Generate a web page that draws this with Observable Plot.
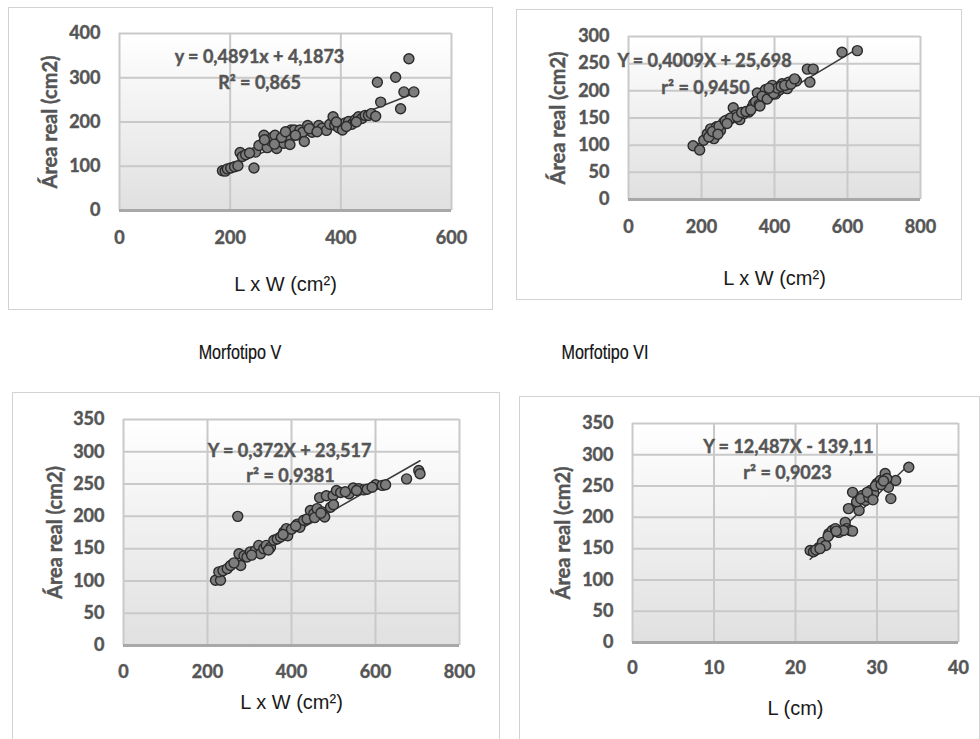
<!DOCTYPE html>
<html>
<head>
<meta charset="utf-8">
<script src="https://cdn.jsdelivr.net/npm/d3@7"></script>
<script src="https://cdn.jsdelivr.net/npm/@observablehq/plot@0.6"></script>
<style>
  html, body { margin: 0; padding: 0; background: #fff; }
  #root { position: relative; width: 980px; height: 739px; overflow: hidden; background: #fff; }
  .box { position: absolute; border: 1.5px solid #d2d2d2; box-sizing: border-box; }
  .panel { position: absolute; }
  .panel svg { overflow: visible; }
  .title { position: absolute; font-family: "Liberation Sans", Arial, sans-serif; font-size: 21px; color: #111;
           transform: translate(-50%, -50%) scaleX(0.77); white-space: nowrap; -webkit-text-stroke: 0.2px #111; }
</style>
</head>
<body>
<div id="root">
  <svg width="0" height="0" style="position:absolute">
    <defs>
      <linearGradient id="plotbg" x1="0" y1="0" x2="0" y2="1">
        <stop offset="0" stop-color="#ffffff"/>
        <stop offset="1" stop-color="#e0e0e0"/>
      </linearGradient>
    </defs>
  </svg>
</div>
<script>
// ---------- DATA ----------
// Panel 1 (top-left)
const p1X = [186,191,195,201,208,214,218,222,228,243,246,252,261,267,272,276,281,284,290,297,302,308,310,316,322,326,331,334,340,348,354,360,366,374,380,386,389,396,403,408,414,420,426,432,438,444,450,455,463,466,472,499,508,514,523,532,280,293,318,343,357,392,410,428,262,235,300];
const p1Y = [90,89,94,96,99,101,131,122,126,96,132,147,170,142,158,165,170,140,156,152,167,149,182,182,171,182,177,156,192,177,182,192,186,181,195,212,193,187,182,198,201,195,205,212,208,215,215,219,213,290,245,301,230,268,343,268,150,165,170,185,178,200,190,200,160,130,178];
// Panel 2 (top-right)
const p2X = [177,195,206,216,225,234,241,252,261,275,287,293,305,316,330,339,343,353,362,371,375,384,394,403,412,421,435,439,453,460,490,497,506,585,627,220,230,248,265,280,298,310,322,335,348,358,366,380,390,398,408,418,428,445,455,245,270,360,385];
const p2Y = [99,91,109,121,130,112,134,127,142,148,169,155,147,158,161,170,176,196,182,188,202,191,210,194,201,213,204,216,219,218,240,216,240,271,274,115,125,135,145,150,152,160,162,165,180,175,190,185,200,195,205,208,210,212,222,120,140,172,205];
// Panel 3 (Morfotipo V)
const p3X = [219,231,227,237,247,255,272,275,279,287,294,302,314,322,326,334,340,350,358,366,374,382,388,391,414,420,429,437,445,453,461,467,473,479,483,493,499,507,517,537,547,560,572,580,600,616,624,674,703,706,263,305,345,380,400,410,455,470,500,528,555,592];
const p3Y = [101,101,114,116,119,124,200,142,124,139,137,145,147,155,142,150,155,152,163,165,168,176,181,170,188,183,194,196,209,204,212,229,207,199,232,214,232,240,237,235,244,243,241,242,249,248,249,258,271,266,128,140,148,172,180,185,198,205,218,238,240,245];
// Panel 4 (Morfotipo VI)
const p4X = [21.8,22.2,22.9,23.3,23.7,24.1,24.5,24.9,25.3,26.1,26.3,26.7,27.0,27.4,27.8,28.2,28.6,29.2,29.6,30.0,30.4,31.0,31.4,31.7,32.3,33.9,26.5,27.0,25.9,22.5,23.0,24.0,25.0,27.5,28.0,29.0,29.8,30.5,31.2,30.8,28.8,29.5];
const p4Y = [147,145,152,160,155,174,179,182,176,192,182,179,240,219,211,235,227,243,238,254,259,270,248,230,259,280,214,178,179,148,150,170,178,225,230,232,250,252,262,258,240,228];

// regression coefficients (from the equations shown)
const slopes = [0.4891, 0.4009, 0.372, 12.487];
const intercepts = [4.1873, 25.698, 23.517, -139.11];
const eqLines = ["y = 0,4891x + 4,1873", "Y = 0,4009X + 25,698", "Y = 0,372X + 23,517", "Y = 12,487X - 139,11"];
const r2Lines = ["R² = 0,865", "r² = 0,9450", "r² = 0,9381", "r² = 0,9023"];

// tick labels
const xTicks1 = [0, 200, 400, 600];
const yTicks1 = [0, 100, 200, 300, 400];
const xTicks2 = [0, 200, 400, 600, 800];
const yTicks2 = [0, 50, 100, 150, 200, 250, 300];
const xTicks3 = [0, 200, 400, 600, 800];
const yTicks3 = [0, 50, 100, 150, 200, 250, 300, 350];
const xTicks4 = [0, 10, 20, 30, 40];
const yTicks4 = [0, 50, 100, 150, 200, 250, 300, 350];

const xTitles = ["L x W (cm²)", "L x W (cm²)", "L x W (cm²)", "L (cm)"];
const yTitle = "Área real (cm2)";
const panelTitles = ["Morfotipo V", "Morfotipo VI"];

// ---------- LAYOUT ----------
const layouts = [
  {box: [8, 7, 485, 303], m: [26, 42, 100, 111], xt: 74, yt: 69, eq: [140, 24, 140, 50], tp: 21},
  {box: [516, 9, 446, 291], m: [27, 42, 101, 112], xt: 79, yt: 70, eq: [76, 25, 77, 52], tp: 21},
  {box: [12, 392, 488, 347], m: [27, 41, 94, 111], xt: 57, yt: 68, eq: [166, 32, 167, 57], tp: 20},
  {box: [519, 396, 461, 343], m: [27, 22, 97, 113], xt: 66, yt: 69, eq: [156, 24, 155, 50], tp: 19}
];
const series = [
  {xs: p1X, ys: p1Y, xt: xTicks1, yt: yTicks1},
  {xs: p2X, ys: p2Y, xt: xTicks2, yt: yTicks2},
  {xs: p3X, ys: p3Y, xt: xTicks3, yt: yTicks3},
  {xs: p4X, ys: p4Y, xt: xTicks4, yt: yTicks4}
];

const root = document.getElementById("root");
const tickFont = "Lato, 'Open Sans', sans-serif";
const grayText = "#555555";

series.forEach((s, i) => {
  const L = layouts[i];
  const [bx, by, bw, bh] = L.box;
  const box = document.createElement("div");
  box.className = "box";
  Object.assign(box.style, {left: bx + "px", top: by + "px", width: bw + "px", height: (i >= 2 ? bh + 20 : bh) + "px"});
  root.appendChild(box);

  const pts = s.xs.map((x, k) => ({x, y: s.ys[k]}));
  const ext = d3.extent(s.xs);
  const fit = ext.map(x => ({x, y: slopes[i] * x + intercepts[i]}));

  const boldText = {fontFamily: tickFont, fontWeight: "bold", fill: grayText, stroke: grayText, strokeWidth: 0.45};

  const chart = Plot.plot({
    width: bw, height: bh,
    marginTop: L.m[0], marginRight: L.m[1], marginBottom: L.m[2], marginLeft: L.m[3],
    style: {fontFamily: tickFont, fontSize: "18px", fontWeight: "bold", color: grayText, background: "transparent"},
    x: {domain: [s.xt[0], s.xt[s.xt.length - 1]]},
    y: {domain: [s.yt[0], s.yt[s.yt.length - 1]]},
    marks: [
      Plot.frame({fill: "url(#plotbg)", stroke: null}),
      Plot.gridX(s.xt, {stroke: "#c9c9c9", strokeOpacity: 1, strokeWidth: 2}),
      Plot.gridY(s.yt, {stroke: "#c9c9c9", strokeOpacity: 1, strokeWidth: 2}),
      Plot.ruleY([0], {stroke: "#a8a8a8", strokeWidth: 3}),
      Plot.axisX(s.xt, {tickSize: 0, tickPadding: L.tp, label: null, fill: grayText, textStroke: grayText, textStrokeWidth: 0.45, textStrokeOpacity: 1}),
      Plot.axisY(s.yt, {tickSize: 0, tickPadding: 19, label: null, fill: grayText, textStroke: grayText, textStrokeWidth: 0.45, textStrokeOpacity: 1}),
      Plot.line(fit, {x: "x", y: "y", stroke: "#3a3a3a", strokeWidth: 1.5}),
      Plot.dot(pts, {x: "x", y: "y", r: 5, fill: "#7c7c7c", stroke: "#2a2a2a", strokeWidth: 1.4}),
      Plot.text([eqLines[i]], {frameAnchor: "top-left", dx: L.eq[0], dy: L.eq[1], textAnchor: "middle", lineAnchor: "middle",
        fontSize: 18, ...boldText}),
      Plot.text([r2Lines[i]], {frameAnchor: "top-left", dx: L.eq[2], dy: L.eq[3], textAnchor: "middle", lineAnchor: "middle",
        fontSize: 18, ...boldText}),
      Plot.text([xTitles[i]], {frameAnchor: "bottom", dy: L.xt, textAnchor: "middle", lineAnchor: "middle",
        fontFamily: "'Liberation Sans', Arial, sans-serif", fontSize: 20, fontWeight: "normal", fill: "#1a1a1a"}),
      Plot.text([yTitle], {frameAnchor: "left", dx: -L.yt, rotate: -90, textAnchor: "middle", lineAnchor: "middle",
        fontSize: 20, ...boldText})
    ]
  });
  chart.querySelectorAll("text").forEach(t => t.setAttribute("paint-order", "stroke"));
  const wrap = document.createElement("div");
  wrap.className = "panel";
  Object.assign(wrap.style, {left: bx + "px", top: by + "px"});
  wrap.appendChild(chart);
  root.appendChild(wrap);
});

const titlePos = [[240, 352], [605, 352]];
panelTitles.forEach((t, i) => {
  const d = document.createElement("div");
  d.className = "title";
  d.textContent = t;
  d.style.left = titlePos[i][0] + "px";
  d.style.top = titlePos[i][1] + "px";
  root.appendChild(d);
});
</script>
</body>
</html>
